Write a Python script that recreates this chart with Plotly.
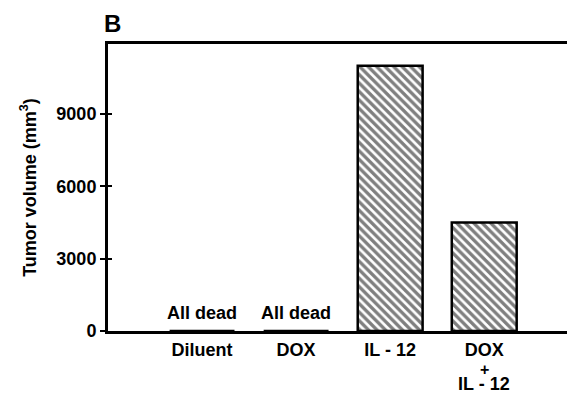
import plotly.graph_objects as go

categories = ["Diluent", "DOX", "IL - 12", "DOX"]
extra_label_lines = ["+", "IL - 12"]   # continuation of the 4th category label
tumor_volume = [0, 0, 11000, 4500]
annotations_text = ["All dead", "All dead", "", ""]
y_ticks = [0, 3000, 6000, 9000]

FONT = "Liberation Sans, Arial, Helvetica, sans-serif"
xpos = list(range(len(categories)))

fig = go.Figure()
fig.add_trace(go.Bar(
    x=xpos, y=tumor_volume, width=0.69,
    marker=dict(color="white", line=dict(color="black", width=2.5),
                pattern=dict(shape="\\", fgcolor="black", bgcolor="white", size=6, solidity=0.55)),
    showlegend=False,
))
fig.add_trace(go.Scatter(x=[0], y=[0], yaxis="y2", mode="markers", marker=dict(opacity=0),
                         showlegend=False, hoverinfo="skip"))

for i, t in enumerate(annotations_text):
    if t:
        fig.add_annotation(x=xpos[i], y=0, text="<b>%s</b>" % t, showarrow=False,
                           yanchor="bottom", yshift=6, font=dict(family=FONT, size=18, color="black"))

extra_shift = [-38, -53]
extra_size = [16, 18]
for j, t in enumerate(extra_label_lines):
    fig.add_annotation(x=xpos[3], y=0, text="<b>%s</b>" % t, showarrow=False, borderpad=0,
                       yanchor="middle", yshift=extra_shift[j],
                       font=dict(family=FONT, size=extra_size[j], color="black"))

fig.add_annotation(text="<b>B</b>", xref="paper", yref="paper", x=0.0, y=1.0, xanchor="left",
                   yanchor="bottom", yshift=5, xshift=-6, showarrow=False,
                   font=dict(family=FONT, size=24, color="black"))

fig.update_layout(
    width=567, height=396,
    margin=dict(l=108, r=0, t=44, b=65),
    plot_bgcolor="white", paper_bgcolor="white",
    font=dict(family=FONT, size=18, color="black"),
    xaxis=dict(range=[-1.0, 3.88], tickvals=xpos, ticktext=["<b>%s</b>" % c for c in categories],
               showgrid=False, zeroline=False, showline=True, linecolor="black", linewidth=3,
               mirror=True, ticks="", tickfont=dict(size=18), automargin=False),
    yaxis=dict(range=[0, 11900], tickvals=y_ticks, ticktext=["<b>%d</b>" % v for v in y_ticks],
               showgrid=False, zeroline=False, showline=True, linecolor="black", linewidth=3,
               ticks="outside", ticklen=5, tickwidth=2, tickcolor="black", automargin=False,
               title=dict(text="<b>Tumor volume (mm<sup>3</sup>)</b>", font=dict(size=18), standoff=16),
               tickfont=dict(size=18)),
    yaxis2=dict(range=[0, 11900], overlaying="y", side="left", tickvals=y_ticks, showticklabels=False,
                ticks="inside", ticklen=4, tickwidth=2, tickcolor="black", showgrid=False,
                zeroline=False, showline=False, automargin=False),
)

fig.write_html("out.html", config={"displayModeBar": False},
               post_script="document.body.style.margin='0';document.body.style.overflow='hidden';")
